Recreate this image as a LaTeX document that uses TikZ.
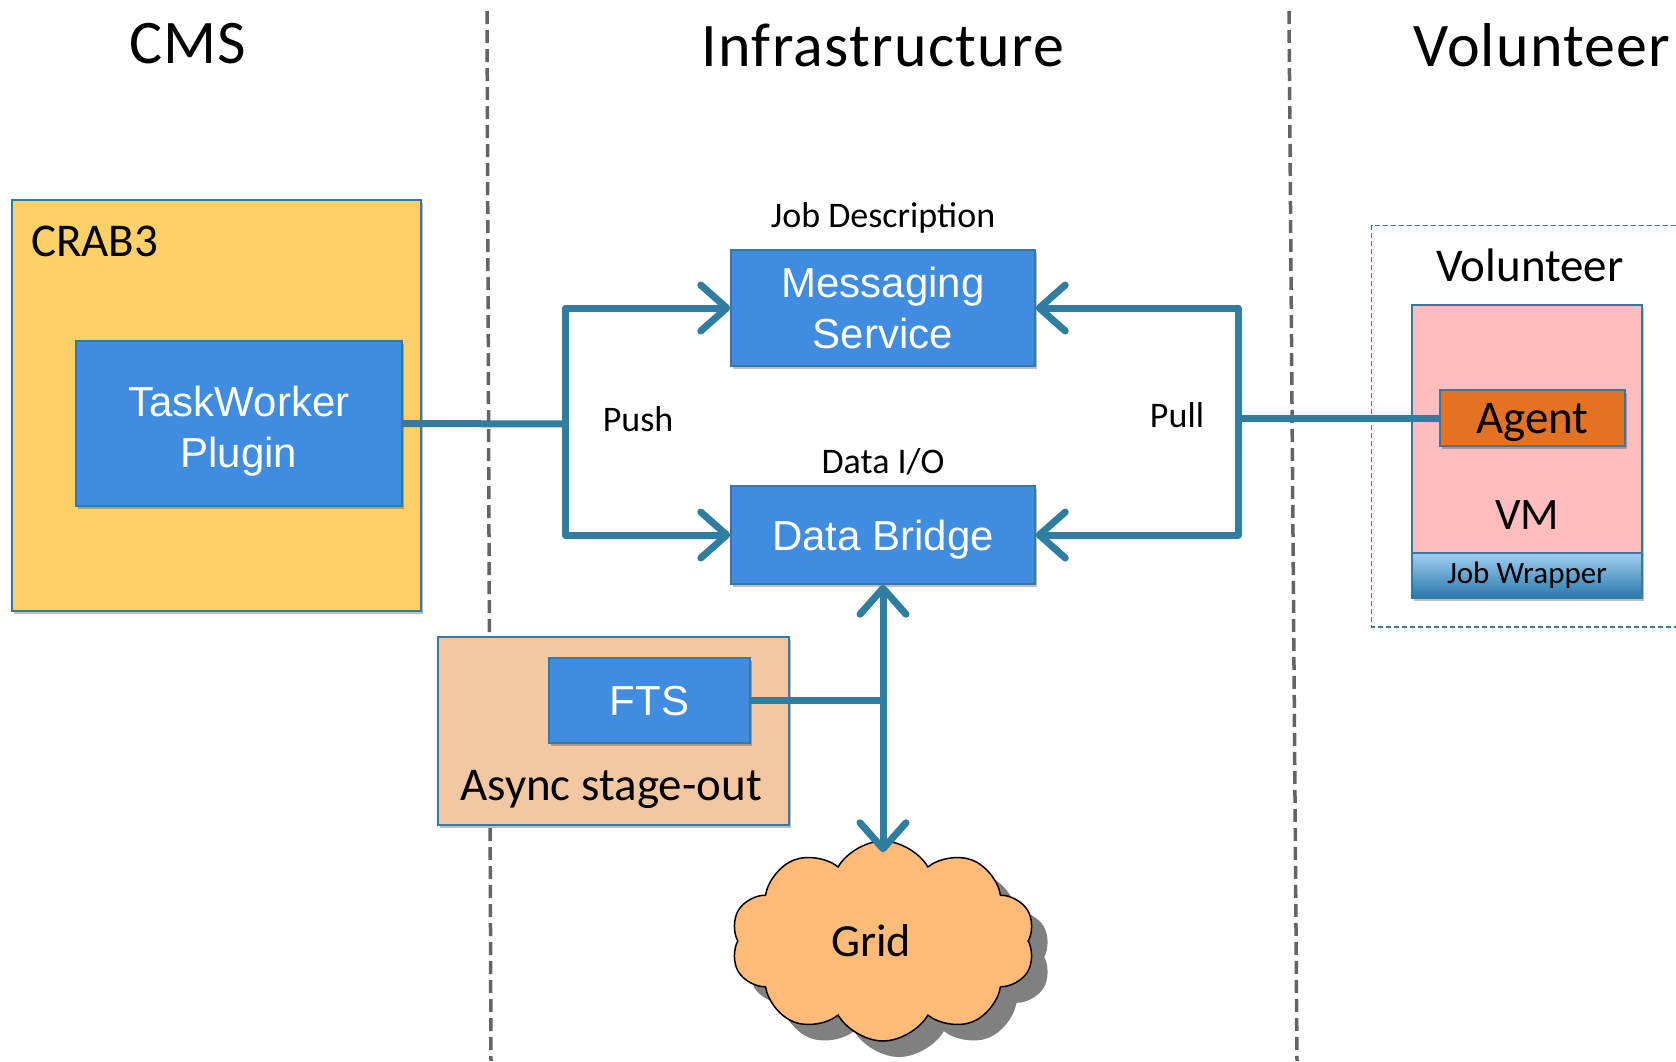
\documentclass[tikz,border=0pt]{standalone}
\usepackage{fontspec}
\setmainfont{Carlito}
\newfontfamily\arialf{Liberation Sans}
\newfontfamily\hdrf[LetterSpace=2]{Carlito}
\usetikzlibrary{arrows.meta,shapes.symbols,shadows}
\definecolor{linkc}{RGB}{47,126,161}
\definecolor{edgec}{RGB}{52,122,165}
\definecolor{boxblue}{RGB}{64,140,224}
\definecolor{crabc}{RGB}{253,209,103}
\definecolor{asyncc}{RGB}{243,199,162}
\definecolor{vmc}{RGB}{255,189,189}
\definecolor{agentc}{RGB}{227,115,34}
\definecolor{cloudc}{RGB}{255,187,119}
\definecolor{jwtop}{RGB}{160,206,242}
\definecolor{jwbot}{RGB}{40,120,170}
\definecolor{divc}{RGB}{100,100,100}
\tikzset{
  softshadow/.style={drop shadow={shadow xshift=2pt,shadow yshift=-3pt,opacity=0.25,fill=black}},
  box/.style={draw=edgec, line width=1.5pt, rectangle, inner sep=0pt},
  bluebox/.style={box, fill=boxblue, text=white, align=center, softshadow, text depth=0pt,
    font=\arialf\fontsize{42}{51}\selectfont},
  hdr/.style={font=\hdrf\fontsize{62}{62}\selectfont, inner sep=0pt},
  lbl/.style={font=\fontsize{47}{47}\selectfont, inner sep=0pt},
  small/.style={font=\fontsize{36}{36}\selectfont, inner sep=0pt},
  link/.style={draw=linkc, line width=7pt, line join=round},
  tipend/.style={-{Straight Barb[length=26pt,width=46pt,round]}},
  tipboth/.style={{Straight Barb[length=26pt,width=46pt,round]}-{Straight Barb[length=26pt,width=46pt,round]}},
  divider/.style={draw=divc, line width=3.5pt, dash pattern=on 13pt off 6pt},
  voldash/.style={draw=edgec, line width=1.5pt, dash pattern=on 5pt off 3pt}
}
\begin{document}
\begin{tikzpicture}[x=1pt,y=-1pt]
\useasboundingbox[fill=white] (0,0) rectangle (1676,1061);

% dividers
\draw[divider] (487,11) -- (491,1061);
\draw[divider] (1289,11) -- (1297,1061);

% headers
\node[hdr] (hcms) at (188,44) {CMS};
\node[hdr] (hinf) at (883,45) {Infrastructure};
\node[hdr,anchor=west] (hvol) at (1413,45) {Volunteer};

% CMS side
\node[box, fill=crabc, minimum width=409, minimum height=411, softshadow] (crab) at (216.5,405.5) {};
\node[lbl, anchor=west] (crablbl) at (31,241) {CRAB3};
\node[bluebox, minimum width=326, minimum height=165] (tw) at (239,423.5) {};
\node[font=\arialf\fontsize{42}{51}\selectfont, text=white, align=center, inner sep=0pt] (twlbl) at (239,431) {TaskWorker\\Plugin};

% Volunteer side
\draw[voldash] (1676,225.5) -| (1371.5,627) -- (1676,627);
\node[lbl] (vollbl) at (1530,265) {Volunteer};
\node[box, fill=vmc, minimum width=230, minimum height=248, softshadow] (vm) at (1527,429) {};
\node[box, top color=jwtop, bottom color=jwbot, draw=edgec, minimum width=230, minimum height=45,
  font=\fontsize{31}{31}\selectfont, softshadow] (jw) at (1527,575.5) {Job Wrapper};
\node[lbl, font=\fontsize{45}{45}\selectfont] (vmlbl) at (1527,515) {VM};

% Infrastructure
\node[bluebox, minimum width=304, minimum height=116] (ms) at (883,308) {Messaging\\Service};
\node[bluebox, minimum width=304, minimum height=98] (db) at (883,535) {Data Bridge};
\node[small] (jdlbl) at (883,218) {Job Description};
\node[small] (diolbl) at (883,462) {Data I/O};
\node[small] (pushlbl) at (638,419) {Push};
\node[small] (pulllbl) at (1177,415) {Pull};

\node[box, fill=asyncc, minimum width=351, minimum height=188, softshadow] (async) at (613.5,731) {};
\node[lbl] (asynclbl) at (611,789) {Async stage-out};
\node[bluebox, minimum width=201, minimum height=85] (fts) at (649.5,700.5) {FTS};

\node[cloud, draw=black, line width=1.5pt, fill=cloudc, cloud puffs=10, cloud puff arc=120,
  aspect=1.5, minimum width=304, minimum height=200, inner sep=0pt,
  drop shadow={shadow xshift=16pt,shadow yshift=-16pt,fill=black!50,opacity=1}] (grid) at (883,941) {};
\node[font=\fontsize{46}{46}\selectfont, inner sep=0pt] (gridlbl) at (871,941) {Grid};

% connectors
\coordinate (pushj) at (565,424);
\draw[link] (tw.east) -- (pushj);
\draw[link, tipend] (pushj) |- (ms.west);
\draw[link, tipend] (pushj) |- (db.west);

\coordinate (pullj) at (1238,418);
\node[box, fill=agentc, minimum width=185, minimum height=56, text depth=0pt,
  font=\fontsize{47}{47}\selectfont, softshadow] (agent) at (1532.5,418) {Agent};
\draw[link] (agent.west) -- (pullj);
\draw[link, tipend] (pullj) |- (ms.east);
\draw[link, tipend] (pullj) |- (db.east);

\coordinate (ftsj) at (883,700.5);
\draw[link] (fts.east) -- (ftsj);
\draw[link, tipboth, shorten >=-12pt] (db.south) -- (grid.north);
\end{tikzpicture}
\end{document}
